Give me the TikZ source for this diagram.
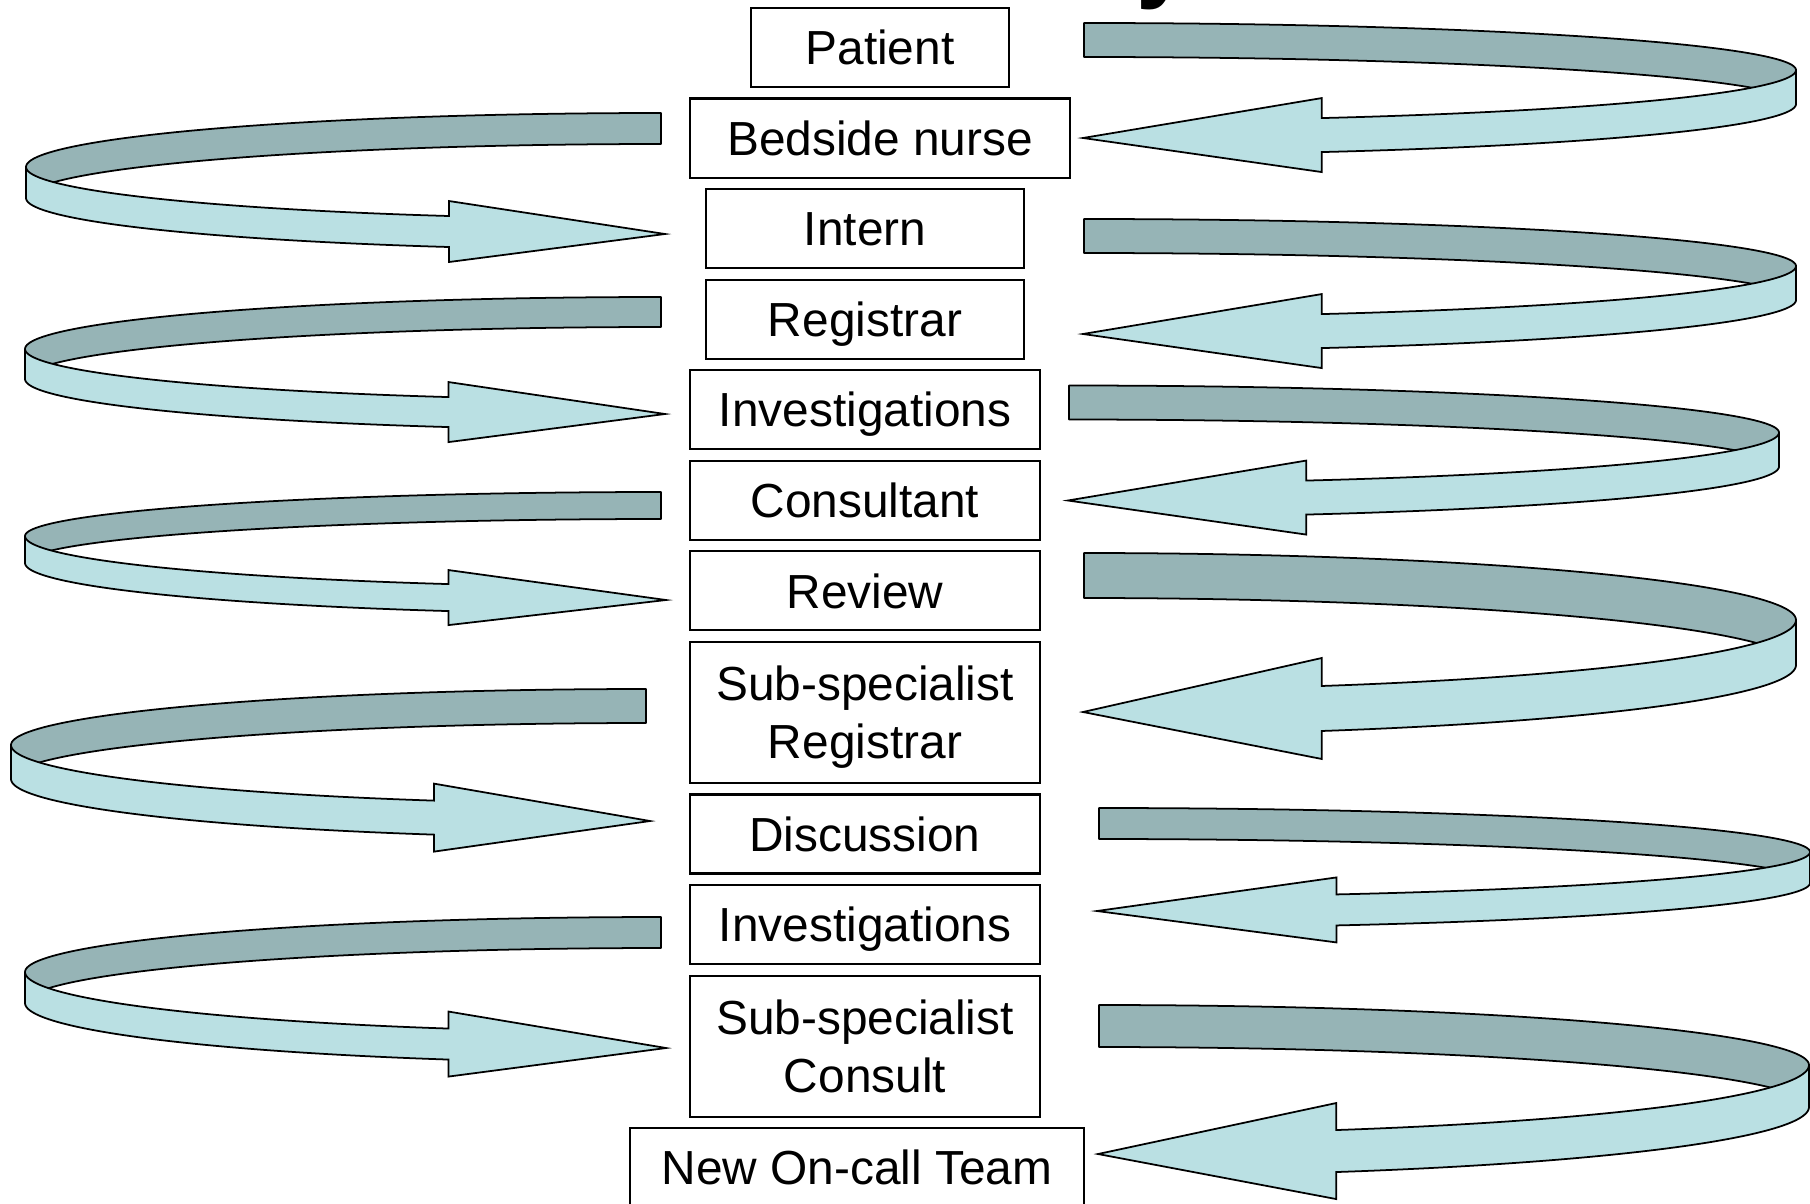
\documentclass[tikz,border=0pt]{standalone}
\usepackage{fontspec}
\setmainfont{Liberation Sans}
\usetikzlibrary{positioning}
\definecolor{ribbonback}{RGB}{150,180,182}
\definecolor{ribbonfront}{RGB}{186,224,227}
\tikzset{
	x=0.01cm, y=-0.01cm,
	node distance=1.15mm,
	frame/.style={draw, line width=0.6pt, inner sep=0pt, outer sep=0pt, align=center, font=\fontsize{13.6}{16.4}\selectfont},
	box/.style={frame, minimum height=7.9mm, text height=9.8pt, text depth=0pt},
	tallbox/.style={frame, minimum height=14.1mm, text depth=0pt},
	back/.style={fill=ribbonback, draw=black, line width=0.5pt, line join=round},
	front/.style={fill=ribbonfront, draw=black, line width=0.5pt}}

\begin{document}
\begin{tikzpicture}
	\useasboundingbox (0,0) rectangle (1810,1203);
	% the title sits above the frame, only its lowest stroke shows
	\node[anchor=base west, inner sep=0pt, font=\bfseries\fontsize{28}{30}\selectfont] (title) at (1136,-10) {y};

	\node[box, minimum width=25.8mm] (patient) at (880,47.5) {Patient};
	\node[box, minimum width=37.9mm, below=of patient] (nurse) {Bedside nurse};
	\node[box, minimum width=31.8mm, below=of nurse, xshift=-1.5mm] (intern) {Intern};
	\node[box, minimum width=31.8mm, below=of intern] (registrar) {Registrar};
	\node[box, minimum width=34.9mm, below=of registrar] (invest) {Investigations};
	\node[box, minimum width=34.9mm, below=of invest] (consultant) {Consultant};
	\node[box, minimum width=34.9mm, below=of consultant] (review) {Review};
	\node[tallbox, minimum width=34.9mm, below=of review] (subreg) {Sub-specialist\\Registrar};
	\node[box, minimum width=34.9mm, below=of subreg] (discussion) {Discussion};
	\node[box, minimum width=34.9mm, below=of discussion] (invest2) {Investigations};
	\node[tallbox, minimum width=34.9mm, below=of invest2] (subcons) {Sub-specialist\\Consult};
	\node[box, minimum width=45.4mm, below=of subcons, xshift=-0.8mm] (oncall) {New On-call Team};

	% ribbons: back half first, then the front half with its head
	\foreach \dir/\cx/\rx/\cy/\rb/\rf/\bw/\hd/\tipx/\tipy in {
		-1/661/635/167/54/52/31/15/665/234,
		-1/661/636/349/52/51/30/15/665/414,
		-1/661/636/536/44/51/27/14/666/600,
		-1/646/635/745/56/59/34/17/650/821,
		-1/661/636/972/55/60/31/17/666/1048,
		1/1084/712/70/47/51/34/20/1083/138,
		1/1084/712/266/47/51/34/20/1083/334,
		1/1069/710/432.5/47/51/34/20/1068/500.5,
		1/1084/712/620/67/70/45/28/1083/712,
		1/1099/711/852/44/45/31/17/1097/911,
		1/1099/710/1065/60/69/42/27/1098/1154}{
		\pgfmathsetmacro\tb{acos(\dir*0.334)}
		\pgfmathsetmacro\fs{90-90*\dir}
		\pgfmathsetmacro\be{270+90*\dir}
		\pgfmathsetmacro\xl{\cx+\dir*\rx}
		\pgfmathsetmacro\yt{\cy-\rb}
		\pgfmathsetmacro\yl{\cy+\bw}
		\pgfmathsetmacro\xb{\cx+\rx*cos(\tb)}
		\pgfmathsetmacro\ytop{\cy+\rf*sin(\tb)}
		\pgfmathsetmacro\ybot{\ytop+\bw}
		\pgfmathsetmacro\ybarbt{\ytop-\hd}
		\pgfmathsetmacro\ybarbb{\ybot+\hd}
		\filldraw[back] (\cx,\yt) -- plot[domain=270:\be, samples=60] ({\cx+\rx*cos(\x)},{\cy+\rb*sin(\x)})
			-- (\xl,\yl) -- plot[domain=\be:270, samples=60] ({\cx+\rx*cos(\x)},{\yl+\rb*sin(\x)}) -- cycle;
		\filldraw[front] (\xl,\cy) -- plot[domain=\fs:\tb, samples=60] ({\cx+\rx*cos(\x)},{\cy+\rf*sin(\x)})
			-- (\xb,\ybarbt) -- (\tipx,\tipy) -- (\xb,\ybarbb) -- (\xb,\ybot)
			-- plot[domain=\tb:\fs, samples=60] ({\cx+\rx*cos(\x)},{\yl+\rf*sin(\x)}) -- cycle;
	}
\end{tikzpicture}
\end{document}
